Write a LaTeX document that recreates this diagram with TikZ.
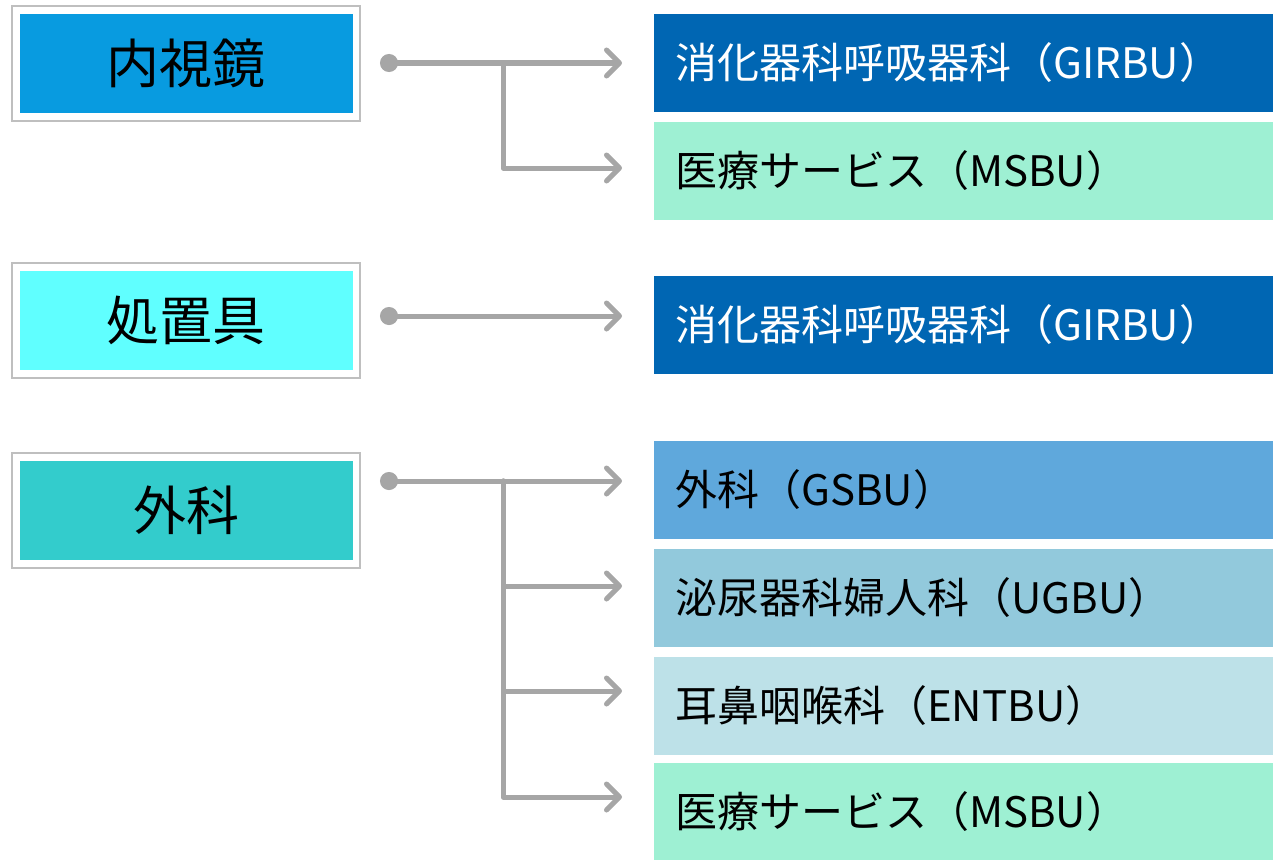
\documentclass[tikz,border=0pt]{standalone}
\usepackage{fontspec}
\setmainfont{Noto Sans CJK JP}
\usetikzlibrary{arrows.meta}
\definecolor{lineg}{HTML}{A6A6A6}
\definecolor{frameg}{HTML}{BFBFBF}
\definecolor{kA}{HTML}{089BE0}
\definecolor{kB}{HTML}{60FFFF}
\definecolor{kC}{HTML}{33CCCC}
\definecolor{rGI}{HTML}{0066B3}
\definecolor{rMS}{HTML}{9EF0D3}
\definecolor{rGS}{HTML}{5FA8DC}
\definecolor{rUG}{HTML}{92C9DC}
\definecolor{rEN}{HTML}{BDE1E8}
\tikzset{
  outerbox/.style={draw=frameg, line width=2pt, fill=white, minimum width=348pt, minimum height=115pt, inner sep=0pt},
  catbox/.style={fill=#1, minimum width=333pt, minimum height=99pt, inner sep=0pt, font=\fontsize{53}{58}\selectfont},
  unitbox/.style={fill=#1, anchor=west, text width=577pt, inner xsep=21pt, inner ysep=0pt, minimum height=98pt, align=left, font=\fontsize{42}{47}\selectfont},
  conn/.style={draw=lineg, line width=5pt, line cap=round, line join=round},
  arr/.style={conn, {Circle[length=18pt,width=18pt]}-{Straight Barb[length=13pt,width=26pt,line cap=round,line join=round]}},
  br/.style={conn, -{Straight Barb[length=13pt,width=26pt,line cap=round,line join=round]}}
}
\begin{document}
\begin{tikzpicture}[x=1pt,y=-1pt]
\useasboundingbox (0,0) rectangle (1273,859);
% left categories
\node[outerbox] (k1o) at (186,63.5) {};
\node[catbox=kA] (k1) at (186,63.5) {内視鏡};
\node[outerbox] (k2o) at (186,320) {};
\node[catbox=kB] (k2) at (186,320) {処置具};
\node[outerbox] (k3o) at (186,510.5) {};
\node[catbox=kC] (k3) at (186,510.5) {外科};
% right units
\node[unitbox=rGI, text=white] (r1) at (654,63) {消化器科呼吸器科（GIRBU）};
\node[unitbox=rMS] (r2) at (654,171) {医療サービス（MSBU）};
\node[unitbox=rGI, text=white] (r3) at (654,324.5) {消化器科呼吸器科（GIRBU）};
\node[unitbox=rGS] (r4) at (654,490) {外科（GSBU）};
\node[unitbox=rUG] (r5) at (654,598) {泌尿器科婦人科（UGBU）};
\node[unitbox=rEN] (r6) at (654,706) {耳鼻咽喉科（ENTBU）};
\node[unitbox=rMS] (r7) at (654,812) {医療サービス（MSBU）};
% connector points
\coordinate (s1) at (380,63);
\coordinate (s2) at (380,316);
\coordinate (s3) at (380,481);
\coordinate (t1) at (622,63);
\coordinate (t2) at (622,168);
\coordinate (t3) at (622,316);
\coordinate (t4) at (622,481);
\coordinate (t5) at (622,586);
\coordinate (t6) at (622,691);
\coordinate (t7) at (622,797);
\coordinate (b1) at (503,63);
\coordinate (b3) at (503,481);
% connectors
\draw[arr] (s1) -- (t1);
\draw[br] (b1) |- (t2);
\draw[arr] (s2) -- (t3);
\draw[arr] (s3) -- (t4);
\draw[br] (b3) |- (t5);
\draw[br] (b3) |- (t6);
\draw[br] (b3) |- (t7);
\end{tikzpicture}
\end{document}
